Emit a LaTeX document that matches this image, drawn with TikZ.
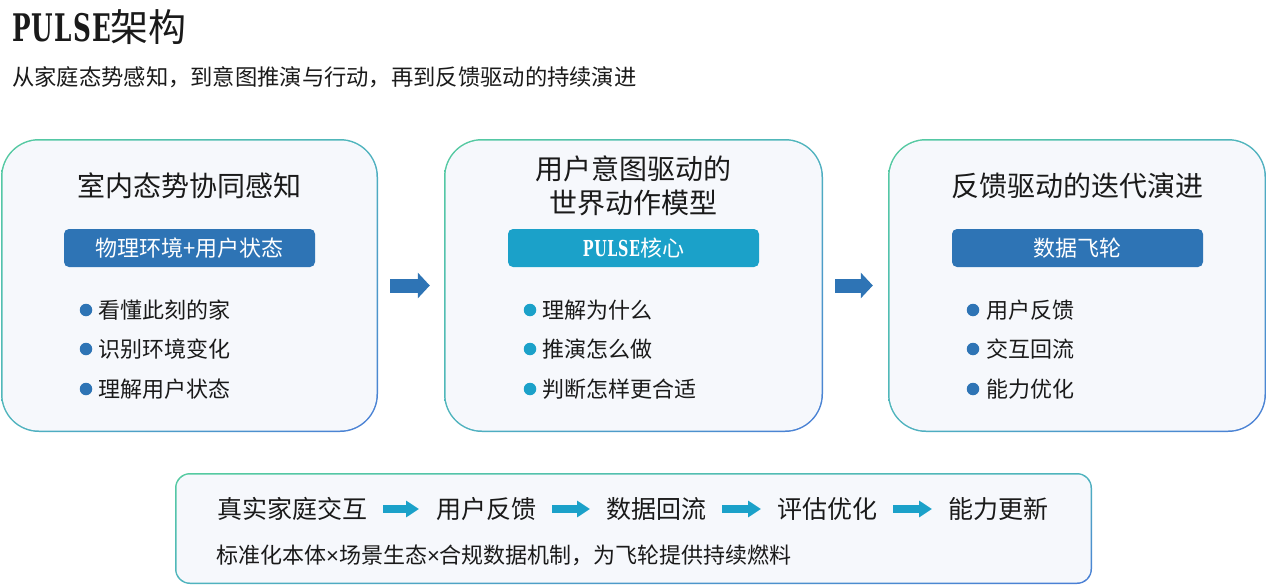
\documentclass[tikz,border=0pt]{standalone}
\usepackage{fontspec}
\setmainfont{Noto Sans CJK SC}
\newfontfamily\pulsefont{DejaVu Serif Bold}[FakeStretch=0.65,LetterSpace=3]
\newfontfamily\timesfont{Liberation Sans}
\usetikzlibrary{arrows.meta,shadings}
\definecolor{dblue}{HTML}{2E74B5}
\definecolor{tblue}{HTML}{1BA1C9}
\definecolor{gA}{HTML}{55CBA0}
\definecolor{gB}{HTML}{4A7ED6}
\definecolor{gM}{HTML}{4FB4BE}
\definecolor{boxfill}{HTML}{F6F8FC}
\definecolor{ink}{HTML}{1A1A1A}
\tikzset{
  gradedge/.style={upper left=gA, lower right=gB, upper right=gM, lower left=gM},
  innerbox/.style={fill=boxfill, draw=none, inner sep=0, rounded corners=#1},
  banner/.style={fill=#1, rounded corners=5pt, minimum width=251pt, minimum height=38pt,
    text=white, font=\fontsize{22}{26}\selectfont, inner sep=0},
  bul/.style={circle, fill=#1, inner sep=0, minimum size=12.5pt},
  item/.style={anchor=west, inner sep=0, font=\fontsize{22}{26}\selectfont, text=ink},
  ttl/.style={font=\fontsize{28}{34}\selectfont, text=ink, align=center, inner sep=0},
  bigarrow/.style={draw=dblue, line width=14pt, -{Triangle[length=12pt,width=25pt]}},
  smallarrow/.style={draw=tblue, line width=8pt, -{Triangle[length=13pt,width=16pt]}},
  flow/.style={anchor=west, inner sep=0, font=\fontsize{25}{30}\selectfont, text=ink},
}
\begin{document}
\begin{tikzpicture}[x=1pt,y=-1pt]
\useasboundingbox[fill=white] (0,0) rectangle (1267,586);

% header
\node (title) [anchor=base west, inner sep=0, text=ink, font=\fontsize{38}{44}\selectfont] at (12,42) {{\pulsefont PULSE}架构};
\node (sub) [anchor=base west, inner sep=0, text=ink, font=\fontsize{22.3}{26}\selectfont] at (12,85) {从家庭态势感知，到意图推演与行动，再到反馈驱动的持续演进};

% box 1
\shade[gradedge, rounded corners=38pt] (1,139) rectangle (378,432);
\node (b1) [innerbox=36.5pt, minimum width=374pt, minimum height=290pt] at (189.5,285.5) {};
\node (t1) [ttl] at (189.5,186) {室内态势协同感知};
\node (n1) [banner=dblue] at (189.5,248) {物理环境+用户状态};
\node (d11) [bul=dblue] at (86,310) {};
\node (i11) [item] at (98,310) {看懂此刻的家};
\node (d12) [bul=dblue] at (86,349) {};
\node (i12) [item] at (98,349) {识别环境变化};
\node (d13) [bul=dblue] at (86,389) {};
\node (i13) [item] at (98,389) {理解用户状态};

% box 2
\shade[gradedge, rounded corners=38pt] (444,139) rectangle (823,432);
\node (b2) [innerbox=36.5pt, minimum width=376pt, minimum height=290pt] at (633.5,285.5) {};
\node (t2) [ttl] at (633.5,186) {用户意图驱动的\\世界动作模型};
\node (n2) [banner=tblue] at (633.5,248) {{\pulsefont PULSE}核心};
\node (d21) [bul=tblue] at (530,310) {};
\node (i21) [item] at (542,310) {理解为什么};
\node (d22) [bul=tblue] at (530,349) {};
\node (i22) [item] at (542,349) {推演怎么做};
\node (d23) [bul=tblue] at (530,389) {};
\node (i23) [item] at (542,389) {判断怎样更合适};

% box 3
\shade[gradedge, rounded corners=38pt] (888,139) rectangle (1266,432);
\node (b3) [innerbox=36.5pt, minimum width=375pt, minimum height=290pt] at (1077,285.5) {};
\node (t3) [ttl] at (1077,186) {反馈驱动的迭代演进};
\node (n3) [banner=dblue] at (1077.5,248) {数据飞轮};
\node (d31) [bul=dblue] at (973,310) {};
\node (i31) [item] at (986,310) {用户反馈};
\node (d32) [bul=dblue] at (973,349) {};
\node (i32) [item] at (986,349) {交互回流};
\node (d33) [bul=dblue] at (973,389) {};
\node (i33) [item] at (986,389) {能力优化};

% arrows between boxes
\draw[bigarrow] ([xshift=13.5pt]b1.east) -- ([xshift=-15.5pt]b2.west);
\draw[bigarrow] ([xshift=13.5pt]b2.east) -- ([xshift=-16.5pt]b3.west);

% bottom box
\shade[gradedge, rounded corners=15pt] (175,473) rectangle (1092,584);
\node (b4) [innerbox=13.5pt, minimum width=914pt, minimum height=108pt] at (633.5,528.5) {};
\node (f1) [flow] at (217,509) {真实家庭交互};
\node (f2) [flow] at (436,509) {用户反馈};
\node (f3) [flow] at (606,509) {数据回流};
\node (f4) [flow] at (777,509) {评估优化};
\node (f5) [flow] at (948,509) {能力更新};
\draw[smallarrow] ([xshift=16pt]f1.east) -- ([xshift=-17pt]f2.west);
\draw[smallarrow] ([xshift=16pt]f2.east) -- ([xshift=-16pt]f3.west);
\draw[smallarrow] ([xshift=16pt]f3.east) -- ([xshift=-16pt]f4.west);
\draw[smallarrow] ([xshift=16pt]f4.east) -- ([xshift=-16pt]f5.west);
\node (foot) [anchor=west, inner sep=0, text=ink, font=\fontsize{22}{26}\selectfont] at (216,555) {标准化本体{\timesfont ×}场景生态{\timesfont ×}合规数据机制，为飞轮提供持续燃料};
\end{tikzpicture}
\end{document}
